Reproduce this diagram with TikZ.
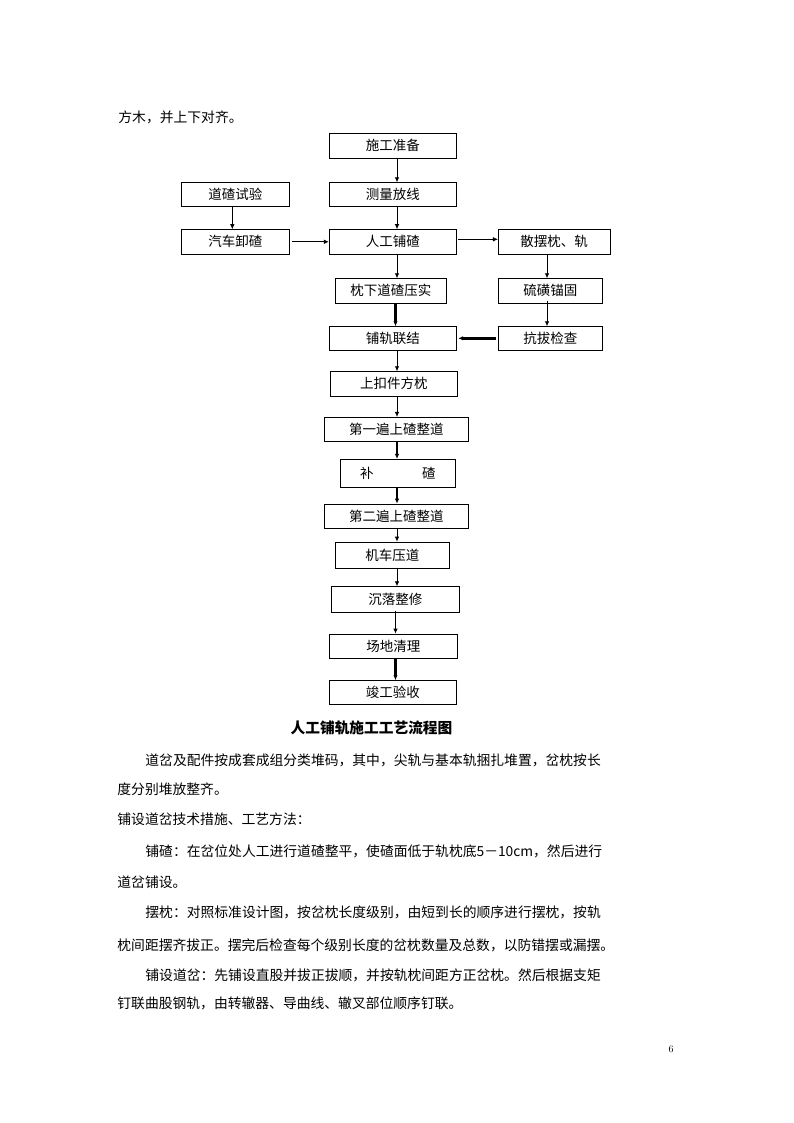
\documentclass[tikz,border=0pt]{standalone}
\usepackage{fontspec}
\newfontfamily\cjk{Noto Sans CJK SC}
\usetikzlibrary{arrows.meta}
\tikzset{
  box/.style={draw,line width=0.8pt,inner sep=0pt,font=\cjk\fontsize{13.5}{16}\selectfont},
  txt/.style={anchor=west,inner sep=0pt,font=\cjk\fontsize{13.8}{16}\selectfont},
  heavy/.style={line width=2.4pt}
}
\begin{document}
\begin{tikzpicture}[x=1pt,y=-1pt,>={Latex[length=5pt,width=4.5pt]},line width=0.8pt]
\useasboundingbox[fill=white] (0,0) rectangle (794,1123);
\node[txt] (top) at (118,117) {方木，并上下对齐。};
\node[box,minimum width=127,minimum height=25] (prep) at (392.8,145.8) {施工准备};
\node[box,minimum width=127,minimum height=23.6] (survey) at (392.8,194.5) {测量放线};
\node[box,minimum width=108,minimum height=23.6] (test) at (235.3,194.5) {道碴试验};
\node[box,minimum width=108,minimum height=24.3] (unload) at (235.3,241.8) {汽车卸碴};
\node[box,minimum width=127,minimum height=24.3] (ballast) at (392.8,241.8) {人工铺碴};
\node[box,minimum width=111.7,minimum height=24.3] (scatter) at (554.2,241.8) {散摆枕、轨};
\node[box,minimum width=111,minimum height=24.3] (tamp) at (390.8,290.8) {枕下道碴压实};
\node[box,minimum width=104,minimum height=24.3] (sulfur) at (550.3,290.8) {硫磺锚固};
\node[box,minimum width=127,minimum height=23.3] (link) at (392.8,338.3) {铺轨联结};
\node[box,minimum width=104,minimum height=23.3] (pull) at (550.3,338.3) {抗拔检查};
\node[box,minimum width=127,minimum height=24.3] (fasten) at (393.8,383.8) {上扣件方枕};
\node[box,minimum width=144,minimum height=23.7] (lift1) at (396.3,429.2) {第一遍上碴整道};
\node[box,minimum width=115,minimum height=28] (topup) at (397.8,473.3) {补\hspace{3.6em}碴};
\node[box,minimum width=144,minimum height=24.3] (lift2) at (396.3,516.2) {第二遍上碴整道};
\node[box,minimum width=114,minimum height=26.3] (press) at (392.3,555.2) {机车压道};
\node[box,minimum width=128,minimum height=25.6] (settle) at (395.3,599.5) {沉落整修};
\node[box,minimum width=128,minimum height=24.3] (clean) at (393.3,646.2) {场地清理};
\node[box,minimum width=127,minimum height=23.3] (accept) at (392.8,692.3) {竣工验收};
\coordinate (spine) at (397,0);
\coordinate (lspine) at (395.5,0);
\coordinate (rspine) at (547,0);
\draw[->] (prep.south -| spine) -- (survey.north -| spine);
\draw[->] (survey.south -| spine) -- (ballast.north -| spine);
\draw[->] ([xshift=-3]test.south) -- ([xshift=-3]unload.north);
\draw[->] ([xshift=2]unload.east) -- (ballast.west);
\draw[->] ([xshift=1.5,yshift=2.5]ballast.east) -- ([yshift=2.5]scatter.west);
\draw[->] (ballast.south -| spine) -- (tamp.north -| spine);
\draw[->] (scatter.south -| rspine) -- (sulfur.north -| rspine);
\draw[->] ([yshift=2.5]sulfur.south -| rspine) -- (pull.north -| rspine);
\draw[->,heavy] (tamp.south -| lspine) -- (link.north -| lspine);
\draw[->,heavy] ([xshift=-1.5]pull.west) -- ([xshift=1.5]link.east);
\draw[->] (link.south -| spine) -- (fasten.north -| spine);
\draw[->] (fasten.south -| spine) -- (lift1.north -| spine);
\draw[->,heavy] (lift1.south -| spine) -- (topup.north -| spine);
\draw[->,heavy] (topup.south -| spine) -- (lift2.north -| spine);
\draw[->] (lift2.south -| spine) -- (press.north -| spine);
\draw[->] (press.south -| spine) -- (settle.north -| spine);
\draw[->] ([yshift=2]settle.south -| lspine) -- (clean.north -| lspine);
\draw[->,heavy] (clean.south -| lspine) -- (accept.north -| lspine);
\node[font=\cjk\bfseries\fontsize{14.7}{16}\selectfont] (title) at (371.5,728.3) {人工铺轨施工工艺流程图};
\node[txt] (p1a) at (145,760) {道岔及配件按成套成组分类堆码，其中，尖轨与基本轨捆扎堆置，岔枕按长};
\node[txt] (p1b) at (117,789.3) {度分别堆放整齐。};
\node[txt] (p2) at (117,819.3) {铺设道岔技术措施、工艺方法：};
\node[txt] (p3a) at (145,851.7) {铺碴：在岔位处人工进行道碴整平，使碴面低于轨枕底5－10cm，然后进行};
\node[txt] (p3b) at (117,882.7) {道岔铺设。};
\node[txt] (p4a) at (145,912) {摆枕：对照标准设计图，按岔枕长度级别，由短到长的顺序进行摆枕，按轨};
\node[txt] (p4b) at (117,945) {枕间距摆齐拔正。摆完后检查每个级别长度的岔枕数量及总数，以防错摆或漏摆。};
\node[txt] (p5a) at (145,975) {铺设道岔：先铺设直股并拔正拔顺，并按轨枕间距方正岔枕。然后根据支矩};
\node[txt] (p5b) at (117,1003.3) {钉联曲股钢轨，由转辙器、导曲线、辙叉部位顺序钉联。};
\node[font=\fontsize{10}{12}\selectfont] (page) at (671,1049) {6};
\end{tikzpicture}
\end{document}
